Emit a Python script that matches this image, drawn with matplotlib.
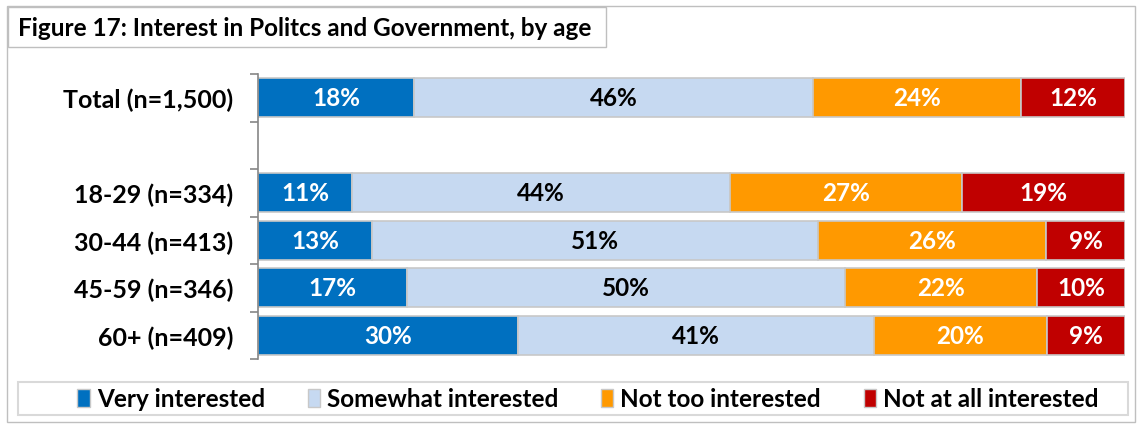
import matplotlib
matplotlib.use("Agg")
import matplotlib.pyplot as plt
from matplotlib.patches import Rectangle, Patch
import numpy as np

plt.rcParams['font.family'] = ['Lato', 'DejaVu Sans']

groups = ["Total (n=1,500)", "", "18-29 (n=334)", "30-44 (n=413)", "45-59 (n=346)", "60+ (n=409)"]
very = [18, None, 11, 13, 17, 30]
somewhat = [46, None, 44, 51, 50, 41]
not_too = [24, None, 27, 26, 22, 20]
not_at_all = [12, None, 19, 9, 10, 9]

series_names = ["Very interested", "Somewhat interested", "Not too interested", "Not at all interested"]
colors = ["#0070C0", "#C6D9F1", "#FF9900", "#C00000"]
text_colors = ["white", "black", "white", "white"]

W, H = 1140, 427
FS = 17.5
WEIGHT = "bold"
fig = plt.figure(figsize=(W / 100, H / 100), dpi=100)

# outer frame
fig.add_artist(Rectangle((7 / W, 1 - 423 / H), 1128 / W, 416 / H, transform=fig.transFigure,
                         fill=False, edgecolor="#BFBFBF", linewidth=1.0))

ax = fig.add_axes([258 / W, 1 - 360 / H, (1125 - 258) / W, (360 - 75) / H])

ypos = np.arange(len(groups))
series = [very, somewhat, not_too, not_at_all]

# 100% stacked: each row is scaled to its own total
totals = [sum(s[i] for s in series) if series[0][i] is not None else None for i in range(len(groups))]
left = np.zeros(len(groups))
for vals, col, tcol in zip(series, colors, text_colors):
    for i, v in enumerate(vals):
        if v is None:
            continue
        w = v * 100.0 / totals[i]
        ax.barh(ypos[i], w, left=left[i], height=0.82, color=col,
                edgecolor="#C8C8C8", linewidth=1.2)
        ax.text(left[i] + w / 2, ypos[i], f"{v}%", ha="center", va="center",
                color=tcol, fontsize=FS, fontweight=WEIGHT)
        left[i] += w

ax.set_xlim(0, 100)
ax.set_ylim(len(groups) - 0.5, -0.5)
ax.set_yticks(ypos)
ax.set_yticklabels(groups, fontsize=18, fontweight=WEIGHT)
ax.set_yticks(np.arange(-0.5, len(groups)), minor=True)
ax.tick_params(axis="y", which="major", length=0, pad=18)
ax.tick_params(axis="y", which="minor", length=6, color="#868686", width=1.2)
ax.set_xticks([])
for s in ["top", "right", "bottom"]:
    ax.spines[s].set_visible(False)
ax.spines["left"].set_color("#868686")
ax.spines["left"].set_linewidth(1.2)

# title box
fig.add_artist(Rectangle((8 / W, 1 - 48 / H), (606 - 8) / W, 40 / H, transform=fig.transFigure,
                         fill=True, facecolor="white", edgecolor="#BFBFBF", linewidth=1.0))
fig.text(18 / W, 1 - 29 / H, "Figure 17: Interest in Politcs and Government, by age",
         ha="left", va="center", fontsize=FS, fontweight=WEIGHT)

# legend with a wide frame behind it
fig.add_artist(Rectangle((18 / W, 1 - 416 / H), 1110 / W, 33 / H, transform=fig.transFigure,
                         fill=True, facecolor="white", edgecolor="#D9D9D9", linewidth=1.5))
handles = [Patch(facecolor=c, edgecolor="#C8C8C8", linewidth=1.0) for c in colors]
leg = fig.legend(handles, series_names, loc="center", bbox_to_anchor=(588 / W, 1 - 400 / H),
                 ncol=4, frameon=False,
                 prop={"size": FS, "weight": WEIGHT}, handlelength=0.5, handleheight=0.7,
                 handletextpad=0.3, columnspacing=1.75, borderpad=0.2)

fig.savefig("out.png", dpi=100, facecolor="white")
